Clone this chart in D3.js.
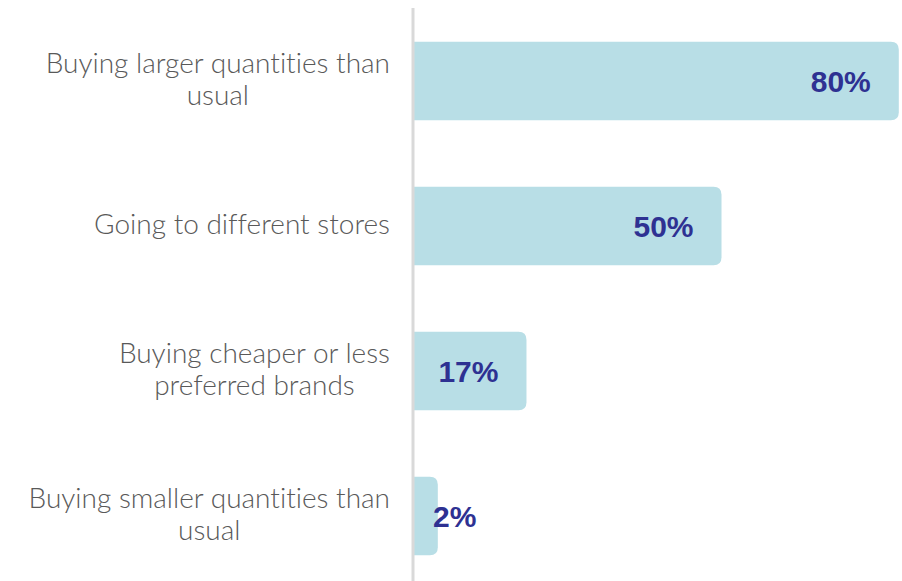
<!DOCTYPE html>
<html>
<head>
<meta charset="utf-8">
<script src="https://cdn.jsdelivr.net/npm/d3@7"></script>
<style>
  body { margin: 0; background: #fff; }
  svg { display: block; }
  text { font-variant-ligatures: none; font-feature-settings: "liga" 0; }
</style>
</head>
<body>
<div id="chart"></div>
<script>
// categories, one entry per bar (line breaks as in the original)
var categories = [
    'Buying larger quantities than\nusual',
    'Going to different stores',
    'Buying cheaper or less\npreferred brands',
    'Buying smaller quantities than\nusual'
];
var values = [80, 50, 17, 2];
var valueLabels = ['80%', '50%', '17%', '2%'];

var width = 902;
var height = 581;
var axisX = 413;
var labelRight = 390;

var svg = d3.select('#chart')
    .append('svg')
        .attr('width', width)
        .attr('height', height);

var y = d3.scaleBand()
    .domain(categories)
    .range([8.5, 588.5])
    .paddingInner(0.46)
    .paddingOuter(0.23);

var x = d3.scaleLinear()
    .domain([0, 100])
    .range([axisX + 13, axisX + 604]);

var r = 8;
function barPath(d) {
    var x0 = axisX, x1 = x(d.value), y0 = y(d.cat), h = y.bandwidth();
    var rr = Math.min(r, (x1 - x0));
    return 'M' + x0 + ',' + y0 +
        'H' + (x1 - rr) +
        'Q' + x1 + ',' + y0 + ' ' + x1 + ',' + (y0 + rr) +
        'V' + (y0 + h - rr) +
        'Q' + x1 + ',' + (y0 + h) + ' ' + (x1 - rr) + ',' + (y0 + h) +
        'H' + x0 + 'Z';
}

var data = categories.map(function(c, i) {
    return { cat: c, value: values[i], label: valueLabels[i] };
});

svg.selectAll('path.bar')
    .data(data)
    .enter().append('path')
        .attr('class', 'bar')
        .attr('d', barPath)
        .attr('fill', '#b8dee6');

// vertical axis line
svg.append('line')
    .attr('x1', axisX).attr('x2', axisX)
    .attr('y1', 8).attr('y2', height)
    .attr('stroke', '#d9d9d9')
    .attr('stroke-width', 3);

// category labels: lines centred on each other, block right-aligned
var lineH = 32;
svg.selectAll('text.cat')
    .data(data)
    .enter().append('text')
        .attr('class', 'cat')
        .attr('font-family', 'Lato, sans-serif')
        .attr('font-weight', 300)
        .attr('font-size', 28)
        .attr('fill', '#595959')
        .each(function(d) {
            var lines = d.cat.split('\n');
            var cy = y(d.cat) + y.bandwidth() / 2;
            var start = cy - (lines.length - 1) * lineH / 2;
            var t = d3.select(this);
            var spans = lines.map(function(l, i) {
                return t.append('tspan')
                    .attr('y', start + i * lineH)
                    .attr('dy', 7.5)
                    .text(l);
            });
            var maxW = d3.max(spans, function(s) { return s.node().getComputedTextLength(); });
            spans.forEach(function(s) {
                var w = s.node().getComputedTextLength();
                s.attr('x', labelRight - maxW + (maxW - w) / 2);
            });
        });

// value labels
svg.selectAll('text.val')
    .data(data)
    .enter().append('text')
        .attr('class', 'val')
        .attr('text-anchor', 'end')
        .attr('font-family', '"Liberation Sans", Arial, sans-serif')
        .attr('font-weight', 'bold')
        .attr('font-size', 30)
        .attr('fill', '#2e3192')
        .attr('y', function(d) { return y(d.cat) + y.bandwidth() / 2; })
        .attr('dy', '0.37em')
        .text(function(d) { return d.label; })
        .attr('x', function(d) {
            var w = this.getComputedTextLength();
            return Math.max(x(d.value) - 28, axisX + 20 + w);
        });
</script>
</body>
</html>
